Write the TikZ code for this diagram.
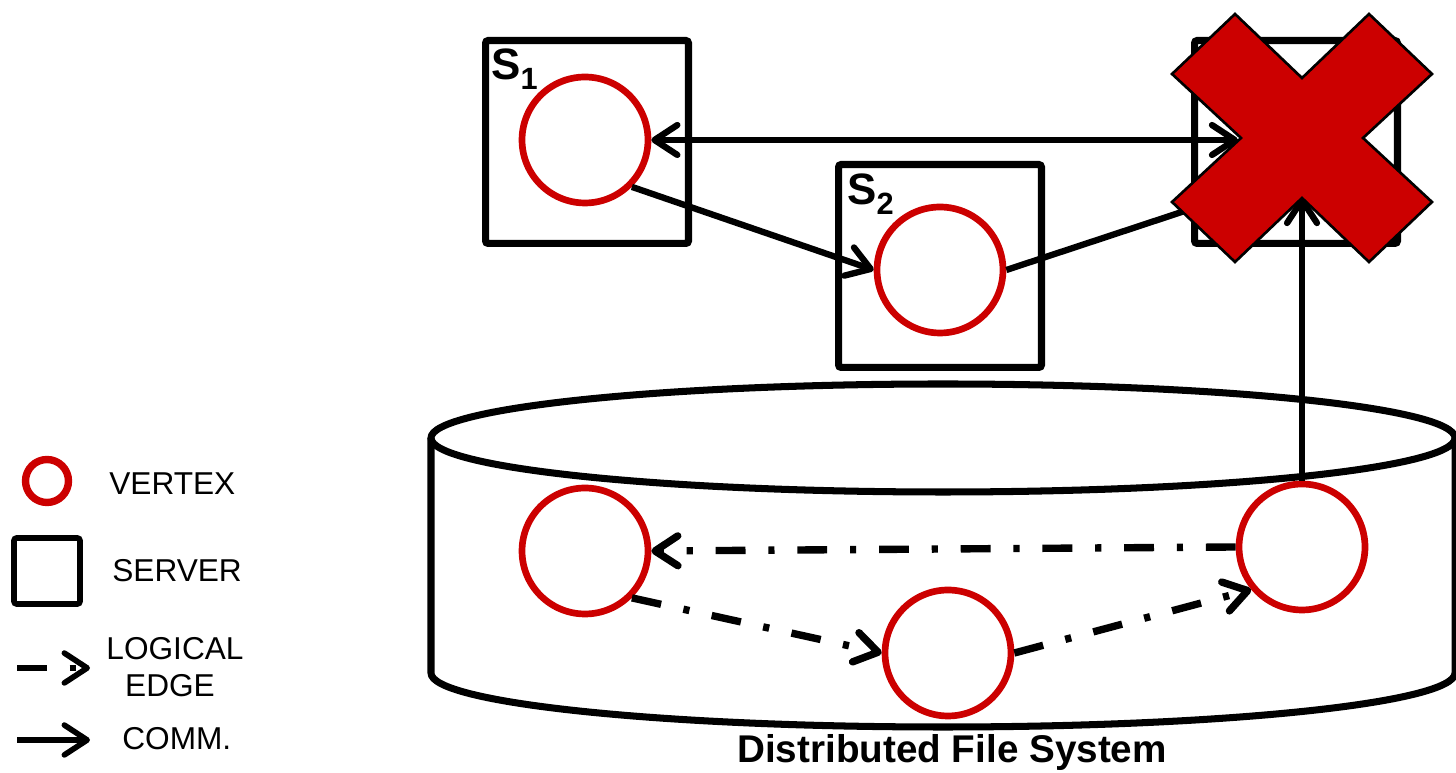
\documentclass[tikz,border=0pt]{standalone}
\usepackage{fontspec}
\setmainfont{Liberation Sans}
\usetikzlibrary{arrows.meta}
\definecolor{vred}{RGB}{204,0,0}
\newcommand{\srvname}[1]{{\fontsize{25}{25}\selectfont\bfseries S}\raisebox{-5.5pt}{\fontsize{17.5}{17.5}\selectfont\bfseries #1}}

\begin{document}
\begin{tikzpicture}[x=0.02cm, y=0.02cm,
    vertex/.style={circle, draw=vred, line width=3.8pt, minimum size=2.52cm, inner sep=0pt},
    server/.style={rectangle, draw, line width=4pt, rounded corners=1.5pt, minimum size=4.06cm, inner sep=0pt},
    comm/.style={line width=3.6pt},
    logical/.style={line width=4.2pt, dash pattern=on 17pt off 13pt on 3.5pt off 13pt},
    lbl/.style={font=\fontsize{18}{21}\selectfont, inner sep=0pt},
    >={Straight Barb[length=13pt,width=17pt,round]}]
  \useasboundingbox (0,0) rectangle (1456,773);

  % file system drum
  \draw[line width=4pt] (431,335) -- (431,100)
    arc[start angle=180, end angle=360, x radius=512, y radius=54] -- (1455,335);
  \draw[line width=4pt] (943,335) ellipse [x radius=512, y radius=54];

  % servers
  \node[server] (s1) at (587,631) {};
  \node[server] (s2) at (940,507) {};
  \node[server] (s3) at (1296,631) {};
  \node[anchor=base west, inner sep=0pt] (s1name) at (491,693) {\srvname{1}};
  \node[anchor=base west, inner sep=0pt] (s2name) at (847,568) {\srvname{2}};

  % vertices
  \node[vertex] (v1) at (585,633) {};
  \node[vertex] (v2) at (940,503) {};
  \node[vertex] (v3) at (585,222) {};
  \node[vertex] (v4) at (948,120) {};
  \node[vertex] (v5) at (1302,226) {};

  \coordinate (xw) at (1238,633);
  \coordinate (xs) at (1302,576);
  \coordinate (xin) at (1215,572);

  % communication
  \draw[comm, <->] (v1) -- (xw);
  \draw[comm, ->] (v1.-45) -- (v2.west);
  \draw[comm] (v2.east) -- (xin);
  \draw[comm, ->] (v5.north) -- (xs);

  % logical edges
  \draw[logical, ->] (v5.west) -- (v3.east);
  \draw[logical, ->] (v3.-45) -- (v4.west);
  \draw[logical, ->] (v4.east) -- (v5.220);

  % failed server
  \filldraw[fill=vred, draw=black, line width=1.5pt, shift={(1302,635)}]
    (0,60) -- (67,124) -- (130,64) -- (61,0) -- (130,-64) -- (67,-124)
    -- (0,-60) -- (-67,-124) -- (-130,-64) -- (-61,0) -- (-130,64) -- (-67,124) -- cycle;

  % legend
  \node[vertex, minimum size=0.86cm, line width=4.2pt] (lv) at (47,292) {};
  \node[lbl, anchor=base west] (lvtext) at (109,278) {VERTEX};
  \node[server, minimum size=1.32cm, line width=3.2pt] (ls) at (47,202) {};
  \node[lbl, anchor=base west] (lstext) at (112,191) {SERVER};
  \coordinate (le1) at (17,105);
  \coordinate (le2) at (90,105);
  \draw[logical, line width=3.2pt, ->] (le1) -- (le2);
  \node[lbl, anchor=base] (letext1) at (175,113) {LOGICAL};
  \node[lbl, anchor=base] (letext2) at (170,76) {EDGE};
  \coordinate (lc1) at (17,33);
  \coordinate (lc2) at (90,33);
  \draw[comm, line width=3.2pt, ->] (lc1) -- (lc2);
  \node[lbl, anchor=base west] (lctext) at (122,23) {COMM.};

  \node[font=\fontsize{22}{26}\selectfont\bfseries, anchor=base, inner sep=0pt] (dfs) at (952,10) {Distributed File System};
\end{tikzpicture}
\end{document}
